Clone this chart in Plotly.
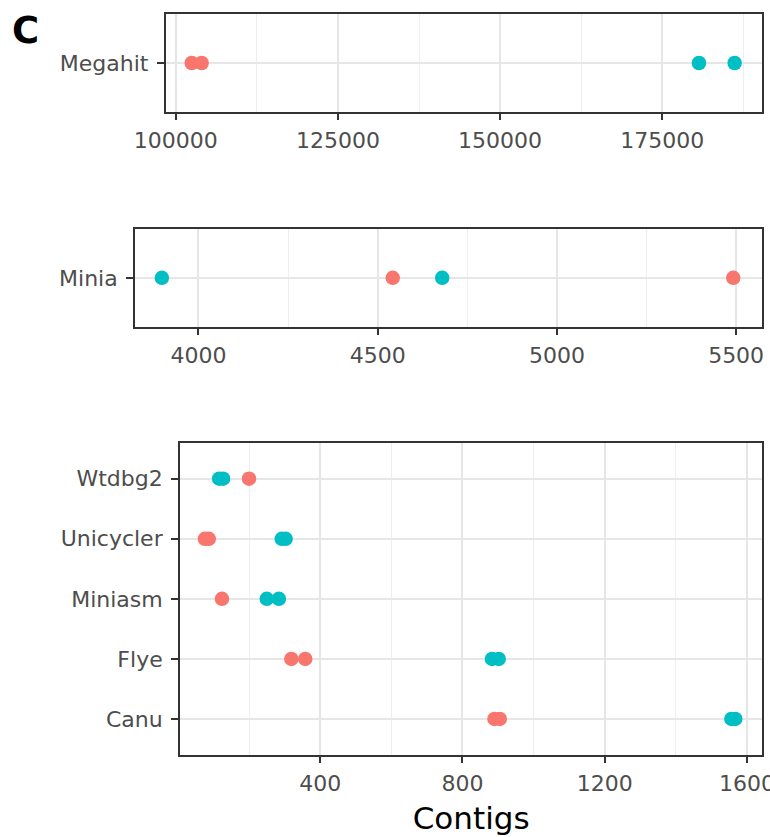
import plotly.graph_objects as go

# ---------------- data ----------------
# Panel 1: Megahit
megahit_red = [102470, 104000]
megahit_cyan = [180650, 186150]

# Panel 2: Minia
minia_red = [4542, 5492]
minia_cyan = [3898, 4680]

# Panel 3: long-read assemblers (bottom to top)
tools = ["Canu", "Flye", "Miniasm", "Unicycler", "Wtdbg2"]
red_tool = ["Canu", "Canu", "Flye", "Flye", "Miniasm", "Unicycler", "Unicycler", "Wtdbg2"]
red_value = [890, 905, 319, 358, 124, 76, 87, 200]
cyan_tool = ["Canu", "Canu", "Flye", "Flye", "Miniasm", "Miniasm", "Unicycler", "Unicycler", "Wtdbg2", "Wtdbg2"]
cyan_value = [1556, 1567, 883, 902, 250, 284, 292, 303, 116, 127]

# tick labels
p1_ticks = [100000, 125000, 150000, 175000]
p1_minor = [112500, 137500, 162500, 187500]
p2_ticks = [4000, 4500, 5000, 5500]
p2_minor = [4250, 4750, 5250]
p3_ticks = [400, 800, 1200, 1600]
p3_minor = [200, 600, 1000, 1400]

RED = "#F8766D"
CYAN = "#00BFC4"
FONT = "DejaVu Sans"
W, H = 770, 837

fig = go.Figure()

def dots(x, y, color, xa, ya):
    fig.add_trace(go.Scatter(
        x=x, y=y, mode="markers", xaxis=xa, yaxis=ya, showlegend=False,
        marker=dict(color=color, size=14.5, line=dict(width=0)),
        hoverinfo="x+y"))

dots(megahit_red, ["Megahit"] * len(megahit_red), RED, "x", "y")
dots(megahit_cyan, ["Megahit"] * len(megahit_cyan), CYAN, "x", "y")
dots(minia_red, ["Minia"] * len(minia_red), RED, "x2", "y2")
dots(minia_cyan, ["Minia"] * len(minia_cyan), CYAN, "x2", "y2")
dots(red_value, red_tool, RED, "x3", "y3")
dots(cyan_value, cyan_tool, CYAN, "x3", "y3")

def px_x(a, b):
    return [a / W, b / W]

def px_y(top, bottom):
    return [1 - bottom / H, 1 - top / H]

tickfont = dict(family=FONT, size=22, color="#4D4D4D")
common_x = dict(
    showline=True, mirror=True, linecolor="#333333", linewidth=1.8,
    ticks="outside", ticklen=6, tickwidth=1.8, tickcolor="#333333",
    showgrid=True, gridcolor="#E6E6E6", gridwidth=1.5, zeroline=False,
    tickfont=tickfont, tickmode="array", automargin=False, ticklabelstandoff=2,
    ticklabeloverflow="allow",
)
common_y = dict(
    showline=True, mirror=True, linecolor="#333333", linewidth=1.8,
    ticks="outside", ticklen=7, tickwidth=1.8, tickcolor="#333333",
    showgrid=True, gridcolor="#E6E6E6", gridwidth=1.5, zeroline=False,
    tickfont=tickfont, type="category", ticklabelstandoff=4, automargin=False,
)
minor = lambda vals: dict(tickmode="array", tickvals=vals, showgrid=True,
                          gridcolor="#EEEEEE", gridwidth=1, ticks="")

fig.update_layout(
    width=W, height=H,
    margin=dict(l=0, r=0, t=0, b=0),
    paper_bgcolor="white", plot_bgcolor="white",
    font=dict(family=FONT),
    xaxis=dict(common_x, domain=px_x(165.7, 762.3), anchor="y",
               range=[98459, 190413], tickvals=p1_ticks,
               ticktext=[str(v) for v in p1_ticks], minor=minor(p1_minor)),
    yaxis=dict(common_y, domain=px_y(14.3, 111.7), anchor="x",
               categoryorder="array", categoryarray=["Megahit"], range=[-0.6, 0.6]),
    xaxis2=dict(common_x, domain=px_x(135, 762.3), anchor="y2",
                range=[3823, 5573], tickvals=p2_ticks,
                ticktext=[str(v) for v in p2_ticks], minor=minor(p2_minor)),
    yaxis2=dict(common_y, domain=px_y(229, 326.7), anchor="x2",
                categoryorder="array", categoryarray=["Minia"], range=[-0.6, 0.6]),
    xaxis3=dict(common_x, domain=px_x(180, 762.3), anchor="y3",
                range=[6, 1643], tickvals=p3_ticks,
                ticktext=[str(v) for v in p3_ticks], minor=minor(p3_minor),
                title=dict(text="Contigs", font=dict(family=FONT, size=31, color="black"),
                           standoff=12)),
    yaxis3=dict(common_y, domain=px_y(442.7, 755), anchor="x3",
                categoryorder="array", categoryarray=tools, range=[-0.6, 4.6]),
)

fig.add_annotation(text="<b>C</b>", x=10 / W, y=1 - 31 / H, xref="paper", yref="paper",
                   xanchor="left", yanchor="middle", showarrow=False,
                   font=dict(family=FONT, size=37, color="black"))

fig.write_html("out.html", config={"displayModeBar": False},
               post_script="document.body.style.margin='0';document.body.style.overflow='hidden';")
